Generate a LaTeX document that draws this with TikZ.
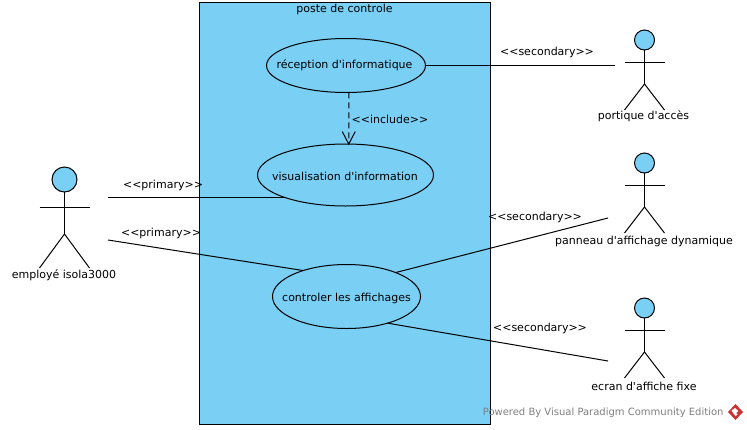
\documentclass[tikz,border=0pt]{standalone}
\usepackage{fontspec}
\newfontfamily\plainf{DejaVu Sans}
\usetikzlibrary{shapes.geometric}
\definecolor{fillblue}{RGB}{122,207,245}
\definecolor{logored}{RGB}{205,50,50}
\tikzset{
  x=1pt,y=-1pt,
  every node/.style={font=\plainf\fontsize{11pt}{13pt}\selectfont,inner sep=0pt,outer sep=0pt,text=black},
  usecase/.style={draw=black,line width=1pt,fill=fillblue,ellipse,inner sep=0pt},
  assoc/.style={draw=black,line width=1pt},
  limb/.style={draw=black,line width=1pt},
  head/.style={draw=black,line width=1pt,fill=fillblue},
}
\newcommand{\bigactor}[2]{%
  \begin{scope}[shift={(#1,#2)}]
    \draw[head] (0,12.5) circle (12.5pt);
    \draw[limb] (0,25) -- (0,67);
    \draw[limb] (-25,40) -- (25,40);
    \draw[limb] (-25,101) -- (0,67) -- (25,101);
  \end{scope}}
\newcommand{\smallactor}[2]{%
  \begin{scope}[shift={(#1,#2)}]
    \draw[head] (0,10) circle (10pt);
    \draw[limb] (0,20) -- (0,54);
    \draw[limb] (-20,32) -- (20,32);
    \draw[limb] (-20,80) -- (0,54) -- (20,80);
  \end{scope}}
\begin{document}
\begin{tikzpicture}
\useasboundingbox (0,0) rectangle (747,429);
\fill[white] (0,0) rectangle (747,429);
\draw[fill=fillblue,draw=black,line width=1pt] (199.5,2.5) rectangle (490.5,424.5);
\node (title) at (344.5,9.5) {poste de controle};

% use cases
\node[usecase,minimum width=159pt,minimum height=54pt] (uc1) at (346,65.5) {};
\node (t1) at (344.5,65) {réception d'informatique};
\node[usecase,minimum width=176pt,minimum height=62pt] (uc2) at (345.5,175) {};
\node (t2) at (345,176) {visualisation d'information};
\node[usecase,minimum width=148pt,minimum height=64pt] (uc3) at (346.5,296.5) {};
\node (t3) at (346.5,298) {controler les affichages};

% actors
\bigactor{64.5}{167}
\node (a1) at (64,275) {employé isola3000};
\smallactor{644.5}{30}
\node (a2) at (643.5,116) {portique d'accès};
\smallactor{644.5}{153}
\node (a3) at (644,241) {panneau d'affichage dynamique};
\smallactor{644.5}{298}
\node (a4) at (644,386) {ecran d'affiche fixe};

% connectors
\coordinate (q1) at (615,65.5);
\draw[assoc] (uc1.east) -- (q1);
\coordinate (p2) at (108,197.5);
\draw[assoc] (p2) -- (p2-|uc2.200.4);
\coordinate (p3) at (108,240);
\draw[assoc] (p3) -- (uc3.149.4);
\coordinate (q4) at (608,218);
\draw[assoc] (uc3.26.1) -- (q4);
\coordinate (q5) at (608,361);
\draw[assoc] (uc3.-33.2) -- (q5);
\draw[assoc,dash pattern=on 6pt off 4pt] (uc1.-84.7) -- (uc2.84.5);
\draw[assoc] ([shift={(-6.5,-12.5)}]uc2.84.5) -- (uc2.84.5) -- ([shift={(6.5,-12.5)}]uc2.84.5);

% labels
\node (l1) at (547,52.5) {<{}<secondary>{}>};
\node (l2) at (390,119.5) {<{}<include>{}>};
\node (l3) at (163,185) {<{}<primary>{}>};
\node (l4) at (161,233) {<{}<primary>{}>};
\node (l5) at (535,217) {<{}<secondary>{}>};
\node (l6) at (540,328) {<{}<secondary>{}>};

% watermark
\node[text=black!50,font=\plainf\fontsize{10pt}{12pt}\selectfont,anchor=east] (wm) at (723.5,412.5) {Powered By Visual Paradigm Community Edition};
\fill[logored] (735.5,404) -- (743,412) -- (735.5,420) -- (728,412) -- cycle;
\fill[white] (731.5,410.5) -- (735,408) -- (738.5,411) -- (736,413) -- (737.5,414.5) -- (735.5,416) -- (733.5,413.5) -- cycle;
\end{tikzpicture}
\end{document}
